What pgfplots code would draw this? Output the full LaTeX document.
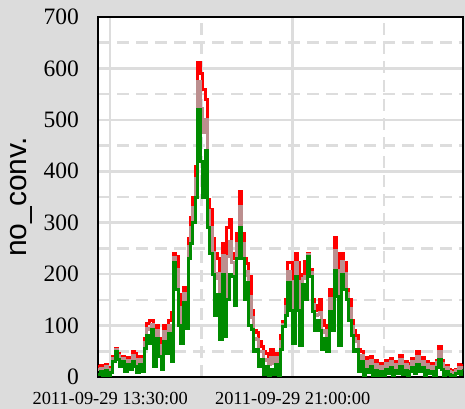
\documentclass[border=0pt]{standalone}
\usepackage{pgfplots}
\pgfplotsset{compat=1.18}
\usepackage{pgfplotstable}
\usepackage{fontspec}
\setmainfont{Liberation Serif}
\newfontfamily\arialfont{Liberation Sans}
\definecolor{bg}{RGB}{220,220,220}
\definecolor{gridc}{RGB}{221,221,221}
\definecolor{rbrown}{RGB}{188,143,143}
\definecolor{greenf}{RGB}{0,139,0}
\pgfplotstableread{
x g b r
13.0 5 14 20
13.1 10 17 22
13.2 3 10 15
13.3 12 20 25
13.4 2 8 12
13.5 8 14 18
13.6 30 36 40
13.7 50 53 55
13.8 35 41 45
13.9 20 29 35
14.0 30 36 40
14.1 10 19 25
14.2 25 33 38
14.3 15 24 30
14.4 30 42 50
14.5 20 35 45
14.6 8 18 25
14.7 25 34 40
14.8 10 22 30
14.9 55 67 75
15.0 80 95 105
15.1 65 92 110
15.2 92 103 110
15.3 20 44 60
15.4 75 90 100
15.5 40 61 75
15.6 15 36 50
15.7 70 88 100
15.8 45 75 95
15.9 85 100 110
16.0 30 87 125
16.1 222 233 241
16.2 170 209 235
16.3 100 136 160
16.4 65 92 110
16.5 145 163 175
16.6 95 128 150
16.7 230 254 270
16.8 260 290 310
16.9 300 330 350
17.0 350 386 410
17.1 520 575 612
17.2 420 522 590
17.3 350 476 560
17.4 440 500 540
17.5 290 323 345
17.6 240 291 325
17.7 200 242 270
17.8 120 192 240
17.9 160 202 230
18.0 72 131 170
18.1 200 236 260
18.2 78 121 150
18.3 150 234 290
18.4 200 264 307
18.5 195 222 240
18.6 140 194 230
18.7 230 260 280
18.8 290 332 360
18.9 230 260 280
19.0 150 198 230
19.1 183 205 220
19.2 100 157 195
19.3 92 115 130
19.4 50 74 90
19.5 53 73 86
19.6 20 50 70
19.7 35 50 60
19.8 5 32 50
19.9 20 35 45
20.0 0 24 40
20.1 15 38 53
20.2 5 26 40
20.3 25 37 45
20.4 0 18 30
20.5 53 69 80
20.6 98 103 107
20.7 120 138 150
20.8 183 206 222
20.9 130 185 222
21.0 66 122 160
21.1 196 222 240
21.2 130 185 222
21.3 62 109 140
21.4 180 192 200
21.5 150 195 225
21.6 235 238 240
21.7 196 204 210
21.8 128 141 150
21.9 90 120 140
22.0 110 122 130
22.1 90 126 150
22.2 53 87 110
22.3 75 90 100
22.4 50 74 90
22.5 128 153 170
22.6 90 126 150
22.7 208 246 272
22.8 157 207 240
22.9 62 145 200
23.0 200 224 240
23.1 170 201 222
23.2 150 162 170
23.3 110 134 150
23.4 80 98 110
23.5 50 74 90
23.6 53 69 80
23.7 10 36 53
23.8 30 42 50
23.9 0 21 35
24.0 15 30 38
24.1 8 20 28
24.2 20 32 40
24.3 3 12 18
24.4 12 24 32
24.5 0 10 18
24.6 10 20 26
24.7 3 12 18
24.8 15 26 32
24.9 6 18 26
25.0 18 30 36
25.1 3 14 22
25.2 12 24 30
25.3 6 18 26
25.4 20 34 42
25.5 5 15 22
25.6 12 24 30
25.7 3 12 18
25.8 10 20 26
25.9 18 30 36
26.0 6 18 26
26.1 25 40 50
26.2 10 22 30
26.3 18 30 38
26.4 3 12 18
26.5 12 24 30
26.6 6 16 22
26.7 10 20 26
26.8 3 12 18
26.9 18 28 32
27.0 35 50 60
27.1 15 26 32
27.2 3 10 14
27.3 10 18 22
27.4 5 10 14
27.5 0 6 10
27.6 3 8 12
27.7 6 12 15
27.8 10 18 24
27.9 5 14 20
28.0 15 21 25
}\datatable
\begin{document}
\begin{tikzpicture}
\fill[bg] (0,0) rectangle (465bp,409bp);
\path[use as bounding box] (0,0) rectangle (465bp,409bp);
\begin{axis}[
  at={(98bp,32bp)}, anchor=south west,
  width=365bp, height=360bp, scale only axis,
  xmin=13, xmax=28, ymin=0, ymax=700,
  axis background/.style={fill=white},
  axis line style={black, line width=2.2bp},
  xtick={13.5,21},
  xticklabels={2011-09-29 13:30:00, 2011-09-29 21:00:00},
  minor xtick={17.25,24.75},
  ytick={0,100,...,700},
  minor ytick={50,150,...,650},
  grid=both,
  major grid style={gridc, line width=2.5bp, solid},
  minor grid style={gridc, line width=2.5bp, dash pattern=on 11.5bp off 7.5bp},
  major tick length=0pt, minor tick length=0pt,
  /pgf/number format/assume math mode=true,
  yticklabel style={font=\fontsize{23.5bp}{23.5bp}\selectfont, inner sep=1bp, xshift=-18bp},
  xticklabel style={font=\fontsize{18.4bp}{18.4bp}\selectfont, inner sep=1bp, yshift=-14bp},
  ylabel={no\_conv.},
  every axis y label/.style={at={(0,0.5)}, xshift=-77bp, rotate=90, anchor=center, font=\arialfont\fontsize{30bp}{30bp}\selectfont},
]
\addplot[const plot, red, line width=3bp] table[x=x, y=r] {\datatable};
\addplot[const plot, rbrown, line width=3bp] table[x=x, y=b] {\datatable};
\addplot[const plot, greenf, line width=3bp] table[x=x, y=g] {\datatable};
\end{axis}
\end{tikzpicture}
\end{document}
